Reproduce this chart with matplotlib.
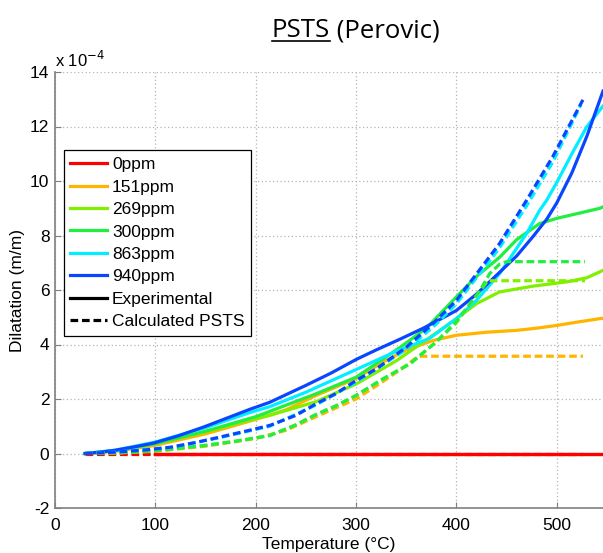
import matplotlib
matplotlib.use('Agg')
import matplotlib.pyplot as plt
from matplotlib.lines import Line2D

# Dilatation values in units of 1e-4 m/m
labels = ['0ppm', '151ppm', '269ppm', '300ppm', '863ppm', '940ppm']
colors = ['#ff0000', '#ffb400', '#80f000', '#20ee40', '#00eeff', '#0a46ff']

# Experimental (solid)
exp_T = [
    [100, 546],
    [30, 60, 100, 150, 200, 230, 260, 300, 327, 350, 377, 400, 430, 460, 480, 500,
     520, 543, 546],
    [30, 60, 100, 150, 200, 214, 260, 300, 340, 373, 400, 420, 443, 476, 510, 530,
     543, 546],
    [30, 60, 100, 150, 200, 260, 300, 344, 370, 400, 420, 443, 460, 483, 500, 520,
     543, 546],
    [30, 60, 100, 150, 194, 214, 250, 300, 340, 373, 400, 420, 443, 470, 483, 490,
     500, 515, 530, 546],
    [30, 45, 60, 80, 98, 123, 148, 170, 194, 214, 250, 275, 300, 320, 344, 367, 385,
     400, 420, 443, 460, 476, 490, 500, 515, 530, 546],
]
exp_y = [
    [0, 0],
    [0, 0.08, 0.3, 0.72, 1.25, 1.6, 2.13, 2.75, 3.36, 3.8, 4.15, 4.34, 4.45, 4.52,
     4.6, 4.7, 4.82, 4.95, 4.96],
    [0, 0.1, 0.36, 0.8, 1.28, 1.4, 1.9, 2.55, 3.4, 4.25, 4.95, 5.5, 5.93, 6.14, 6.3,
     6.45, 6.67, 6.72],
    [0, 0.1, 0.36, 0.82, 1.35, 2.19, 2.8, 3.9, 4.6, 5.75, 6.5, 7.2, 7.85, 8.44, 8.63,
     8.8, 9.0, 9.05],
    [0, 0.12, 0.42, 0.95, 1.5, 1.72, 2.25, 3.08, 3.75, 4.22, 4.95, 5.62, 6.6, 8.08,
     8.93, 9.3, 9.95, 11.0, 12.0, 12.75],
    [0, 0.05, 0.12, 0.25, 0.38, 0.65, 0.97, 1.28, 1.62, 1.88, 2.5, 2.95, 3.45, 3.8,
     4.2, 4.6, 4.95, 5.25, 5.85, 6.65, 7.25, 7.95, 8.6, 9.2, 10.3, 11.65, 13.3],
]

# Calculated PSTS (dashed)
calc_T = [
    [30, 526],
    [30, 60, 100, 150, 200, 230, 260, 300, 325, 345, 362, 526],
    [30, 60, 100, 148, 180, 214, 240, 260, 280, 300, 325, 354, 380, 400, 415, 431,
     528],
    [30, 60, 100, 148, 180, 214, 240, 260, 280, 300, 325, 354, 380, 400, 423, 433,
     443, 450, 528],
    [30, 60, 115, 164, 214, 260, 300, 350, 377, 400, 443, 470, 496, 524],
    [30, 60, 90, 115, 140, 164, 190, 214, 240, 260, 280, 300, 320, 350, 377, 400,
     443, 470, 496, 526],
]
calc_y = [
    [0, 0],
    [0, 0.02, 0.08, 0.27, 0.55, 0.85, 1.35, 2.0, 2.6, 3.1, 3.57, 3.57],
    [0, 0.02, 0.1, 0.29, 0.45, 0.66, 1.05, 1.43, 1.75, 2.13, 2.7, 3.3, 4.1, 4.8,
     5.55, 6.34, 6.34],
    [0, 0.02, 0.1, 0.29, 0.45, 0.66, 1.05, 1.43, 1.75, 2.13, 2.7, 3.3, 4.1, 4.85,
     5.95, 6.6, 6.95, 7.04, 7.04],
    [0, 0.05, 0.22, 0.58, 1.0, 1.78, 2.62, 3.82, 4.65, 5.5, 7.55, 9.1, 10.7, 12.8],
    [0, 0.05, 0.13, 0.23, 0.4, 0.6, 0.82, 1.03, 1.4, 1.82, 2.2, 2.68, 3.1, 3.9,
     4.78, 5.62, 7.71, 9.3, 10.9, 12.98],
]

xticks = [0, 100, 200, 300, 400, 500]
yticks = [-2, 0, 2, 4, 6, 8, 10, 12, 14]

plt.rcParams['font.family'] = ['Liberation Sans', 'DejaVu Sans']
plt.rcParams['axes.unicode_minus'] = False

fig = plt.figure(figsize=(6.03, 5.53), dpi=100)
ax = fig.add_axes([55 / 603, 45 / 553, 548 / 603, 436 / 553])

lw = 2.3
dash = (0, (2.4, 1.2))
for T, y, c in zip(exp_T, exp_y, colors):
    ax.plot(T, y, color=c, lw=lw, solid_joinstyle='round')
for T, y, c in zip(calc_T, calc_y, colors):
    ax.plot(T, y, color=c, lw=lw, ls=dash)
ax.plot(exp_T[0], exp_y[0], color=colors[0], lw=lw)

ax.set_xlim(0, 546)
ax.set_ylim(-2, 14)
ax.set_xticks(xticks)
ax.set_yticks(yticks)
ax.tick_params(axis='both', direction='in', length=4, labelsize=12.5,
               color='#808080')
ax.tick_params(axis='x', pad=7)
ax.tick_params(axis='y', pad=4)
ax.grid(True, color='#b4b4b4', ls=(0, (1, 2)), lw=0.9)
for s in ['top', 'right']:
    ax.spines[s].set_visible(False)
for s in ['left', 'bottom']:
    ax.spines[s].set_color('#808080')
    ax.spines[s].set_linewidth(1.2)

ax.set_xlabel('Temperature (°C)', fontsize=12.5, labelpad=3)
ax.set_ylabel('Dilatation (m/m)', fontsize=12.5, labelpad=4)
ax.text(0.0, 1.004, r'x 10$^{-4}$', transform=ax.transAxes, fontsize=12,
        ha='left', va='bottom')

handles = [Line2D([], [], color=c, lw=lw) for c in colors]
handles.append(Line2D([], [], color='k', lw=lw))
handles.append(Line2D([], [], color='k', lw=lw, ls=dash))
leg = ax.legend(handles, labels + ['Experimental', 'Calculated PSTS'],
                loc='upper left', bbox_to_anchor=(0.016, 0.82), borderaxespad=0,
                fontsize=12.5, handlelength=2.1, labelspacing=0.42,
                handletextpad=0.3, borderpad=0.38, fancybox=False, framealpha=1)
leg.get_frame().set_edgecolor('k')
leg.get_frame().set_linewidth(0.9)

# title with underlined "PSTS"
t1 = fig.text(272 / 603, 1 - 37 / 553, 'PSTS', fontsize=18.5, family='Open Sans',
              ha='left', va='baseline')
fig.canvas.draw()
bb = t1.get_window_extent().transformed(fig.transFigure.inverted())
fig.text(bb.x1, 1 - 37 / 553, ' (Perovic)', fontsize=18.5, family='Open Sans',
         ha='left', va='baseline')
uy = 1 - 41 / 553
fig.add_artist(Line2D([bb.x0, bb.x1], [uy, uy], color='k', lw=1.2,
                      transform=fig.transFigure))

fig.savefig('out.png', dpi=100)
